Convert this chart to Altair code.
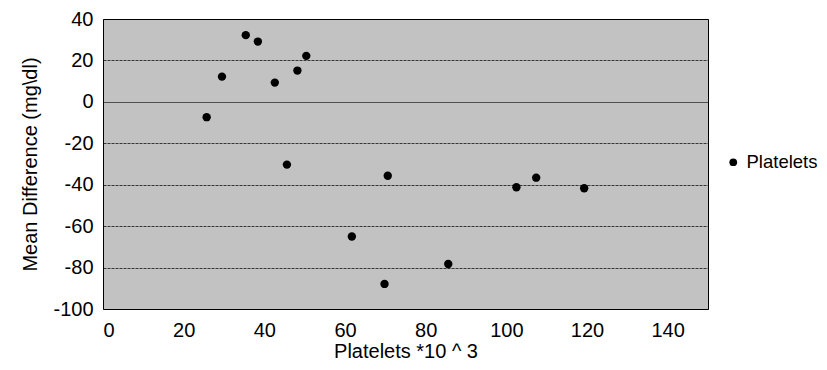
import altair as alt
import pandas as pd

platelets = [25.7, 29.5, 35.4, 38.4, 42.6, 45.6, 48.2, 50.4, 61.7, 69.8, 70.6, 85.6, 102.5, 107.4, 119.3]
mean_diff = [-7.4, 12.2, 32.2, 29.1, 9.3, -30.3, 15.1, 22.2, -65.0, -87.9, -35.7, -78.3, -41.2, -36.6, -41.7]
series = ["Platelets"] * len(platelets)
x_ticks = [0, 20, 40, 60, 80, 100, 120, 140]
y_ticks = [-100, -80, -60, -40, -20, 0, 20, 40]

df = pd.DataFrame({"x": platelets, "y": mean_diff, "s": series})

FONT = "Liberation Sans"

chart = alt.Chart(df).mark_point(filled=True, size=70, opacity=1, shape="circle").encode(
    x=alt.X("x:Q", title="Platelets *10 ^ 3",
            scale=alt.Scale(domain=[0, 150], nice=False, zero=False),
            axis=alt.Axis(values=x_ticks, grid=False, ticks=False,
                          domain=False, labelPadding=11, titlePadding=1,
                          labelExpr="'' + datum.value")),
    y=alt.Y("y:Q", title="Mean Difference (mg\\dl)",
            scale=alt.Scale(domain=[-100, 40], nice=False),
            axis=alt.Axis(values=y_ticks, grid=True, ticks=False,
                          domain=False, labelPadding=10, titlePadding=12,
                          labelExpr="'' + datum.value",
                          gridDash={"condition": {"test": "datum.value === 0", "value": [1, 0]},
                                    "value": [3, 1]})),
    color=alt.Color("s:N", title=None,
                    scale=alt.Scale(range=["black"]),
                    legend=alt.Legend(orient="none", legendX=621, legendY=134,
                                      symbolType="circle", symbolSize=60, labelOffset=4,
                                      labelFontSize=18.5, labelFont=FONT, labelColor="black"))
).properties(
    width=605, height=290,
    autosize=alt.AutoSizeParams(type="none"),
    padding={"left": 95, "top": 11, "right": 111, "bottom": 58},
    background="white"
).configure_view(
    fill="#c2c2c2", stroke="black", strokeWidth=1
).configure_axis(
    labelFont=FONT, titleFont=FONT, labelFontSize=20, titleFontSize=20,
    labelColor="black", titleColor="black", titleFontWeight="normal",
    gridColor="black", gridWidth=0.8, gridOpacity=0.9
)

chart.save("out.html", embed_options={"renderer": "svg", "actions": False})
